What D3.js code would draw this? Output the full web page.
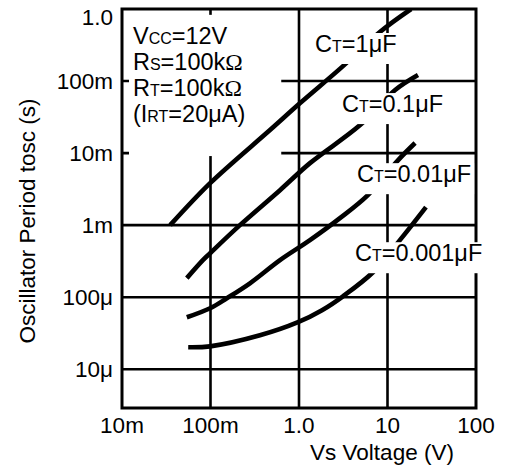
<!DOCTYPE html>
<html lang="en">
<head>
<meta charset="UTF-8">
<title>Oscillator Period vs Vs Voltage</title>
<script src="https://d3js.org/d3.v7.min.js"></script>
<style>
  body { margin: 0; background: #fff; }
  text { font-family: "Liberation Sans", Arial, sans-serif; fill: #000; font-weight: normal; }
  .grid line { stroke: #000; stroke-width: 2.6; }
  .curve { fill: none; stroke: #000; stroke-width: 4.6; stroke-linecap: butt; }
</style>
</head>
<body>
<div id="chart"></div>
<script>
// axis ticks
const xTicks = [0.01, 0.1, 1, 10, 100];
const xTickLabels = ["10m", "100m", "1.0", "10", "100"];
const yTicks = [1, 0.1, 0.01, 1e-3, 1e-4, 1e-5];
const yTickLabels = ["1.0", "100m", "10m", "1m", "100μ", "10μ"];
const yBottom = 2.9e-6;   // axis ends a bit below 10μ

// curves (V in volts, t in seconds)
const ct1uF_v = [0.035, 0.099, 0.47, 1.03, 3.14, 8.2, 18.5];
const ct1uF_t = [1.0e-3, 3.83e-3, 0.0209, 0.0495, 0.161, 0.48, 1.0];

const ct01uF_v = [0.054, 0.082, 0.099, 0.215, 0.61, 1.33, 4.9, 12.2, 22.1];
const ct01uF_t = [1.84e-4, 3.27e-4, 4.08e-4, 1.0e-3, 3.06e-3, 7.26e-3, 0.0245, 0.075, 0.121];

const ct001uF_v = [0.054, 0.099, 0.153, 0.279, 0.61, 1.33, 2.9, 6.0, 13.2, 20.5];
const ct001uF_t = [5.27e-5, 7.03e-5, 9.68e-5, 1.56e-4, 3.27e-4, 6.19e-4, 1.25e-3, 2.61e-3, 8.0e-3, 0.0138];

const ct0001uF_v = [0.056, 0.099, 0.362, 0.975, 1.82, 3.14, 6.85, 13.8, 27.2];
const ct0001uF_t = [2.02e-5, 2.08e-5, 2.96e-5, 4.5e-5, 6.6e-5, 1.03e-4, 2.22e-4, 6.19e-4, 1.78e-3];

// curve labels: [main, small, rest], anchored at (V, t)
const curveLabels = [
  { parts: ["C", "T", "=1μF"], v: 1.52, t: 0.253 },
  { parts: ["C", "T", "=0.1μF"], v: 3.06, t: 0.0371 },
  { parts: ["C", "T", "=0.01μF"], v: 4.52, t: 3.95e-3 },
  { parts: ["C", "T", "=0.001μF"], v: 4.3, t: 3.16e-4 }
];

// condition box
const condLines = [
  [["V", 0], ["CC", 1], ["=12V", 0]],
  [["R", 0], ["S", 1], ["=100k", 0], ["Ω", 2]],
  [["R", 0], ["T", 1], ["=100k", 0], ["Ω", 2]],
  [["(I", 0], ["RT", 1], ["=20μA)", 0]]
];
const condBoxV = [0.012, 0.63];
const condBoxT = [0.0091, 0.83];
const condTextV = 0.0133, condTextT = 0.331;

const W = 507, H = 466;
const svg = d3.select("#chart").append("svg")
  .attr("width", W).attr("height", H);

const x = d3.scaleLog().domain([0.01, 100]).range([122, 476]);
const y = d3.scaleLog().domain([yBottom, 1]).range([408, 9]);

// grid
const grid = svg.append("g").attr("class", "grid");
grid.selectAll(".vx").data(xTicks.slice(1, -1)).enter().append("line")
  .attr("x1", d => x(d)).attr("x2", d => x(d))
  .attr("y1", y.range()[1]).attr("y2", y.range()[0]);
grid.selectAll(".hy").data(yTicks.slice(1)).enter().append("line")
  .attr("x1", x.range()[0]).attr("x2", x.range()[1])
  .attr("y1", d => y(d)).attr("y2", d => y(d));

svg.append("rect")
  .attr("x", x.range()[0]).attr("y", y.range()[1])
  .attr("width", x.range()[1] - x.range()[0])
  .attr("height", y.range()[0] - y.range()[1])
  .attr("fill", "none").attr("stroke", "#000").attr("stroke-width", 3);

// white box behind condition text
svg.append("rect")
  .attr("x", x(condBoxV[0])).attr("y", y(condBoxT[1]))
  .attr("width", x(condBoxV[1]) - x(condBoxV[0]))
  .attr("height", y(condBoxT[0]) - y(condBoxT[1]))
  .attr("fill", "#fff");

// curves
svg.append("clipPath").attr("id", "plotclip").append("rect")
  .attr("x", 122).attr("y", 9).attr("width", 354).attr("height", 399);

const line = d3.line()
  .x(d => x(d[0])).y(d => y(d[1]))
  .curve(d3.curveCatmullRom.alpha(0.5));

const series = [
  [ct1uF_v, ct1uF_t],
  [ct01uF_v, ct01uF_t],
  [ct001uF_v, ct001uF_t],
  [ct0001uF_v, ct0001uF_t]
];
svg.append("g").attr("clip-path", "url(#plotclip)")
  .selectAll("path").data(series).enter().append("path")
  .attr("class", "curve")
  .attr("d", s => line(s[0].map((v, i) => [v, s[1][i]])));

// curve labels with white background
curveLabels.forEach(l => {
  const g = svg.append("g");
  const bg = g.append("rect").attr("fill", "#fff");
  const t = g.append("text")
    .attr("x", x(l.v)).attr("y", y(l.t))
    .style("font-size", "23.5px");
  t.append("tspan").text(l.parts[0]);
  t.append("tspan").style("font-size", "16px").text(l.parts[1]);
  t.append("tspan").text(l.parts[2]);
  const b = t.node().getBBox();
  bg.attr("x", b.x - 4).attr("y", b.y + 2)
    .attr("width", b.width + 7).attr("height", b.height + 5);
});

// condition text
const cond = svg.append("g");
condLines.forEach((ln, i) => {
  const t = cond.append("text")
    .attr("x", x(condTextV))
    .attr("y", y(condTextT) + i * 26.3)
    .style("font-size", "23.5px");
  ln.forEach(p => {
    const sp = t.append("tspan").text(p[0]);
    if (p[1] === 1) sp.style("font-size", "16px");
    if (p[1] === 2) sp.style("font-family", "'Liberation Serif', serif");
  });
});

// tick labels
svg.selectAll(".xt").data(xTicks).enter().append("text")
  .attr("x", d => x(d)).attr("y", 433)
  .attr("text-anchor", "middle")
  .style("font-size", "22.5px")
  .text((d, i) => xTickLabels[i]);

svg.selectAll(".yt").data(yTicks).enter().append("text")
  .attr("x", 113).attr("y", d => y(d))
  .attr("dy", (d, i) => i === 0 ? "0.72em" : "0.36em")
  .attr("text-anchor", "end")
  .style("font-size", "22.5px")
  .text((d, i) => yTickLabels[i]);

// axis titles
svg.append("text")
  .attr("x", 382).attr("y", 460)
  .attr("text-anchor", "middle")
  .style("font-size", "22.5px")
  .text("Vs Voltage (V)");

svg.append("text")
  .attr("transform", "translate(35,221) rotate(-90)")
  .attr("text-anchor", "middle")
  .style("font-size", "22.5px")
  .text("Oscillator Period tosc (s)");
</script>
</body>
</html>
